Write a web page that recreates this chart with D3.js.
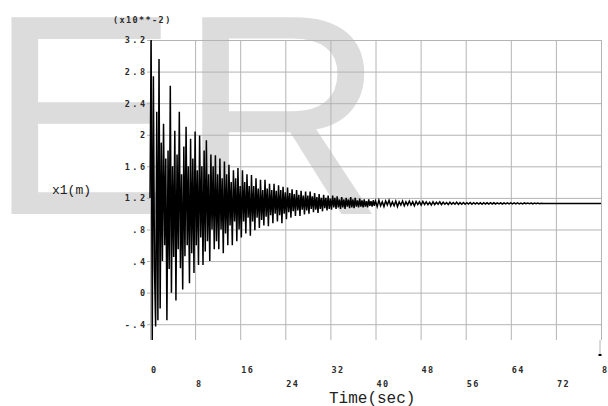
<!DOCTYPE html>
<html lang="en">

<head>
    <meta charset="UTF-8">
    <title>x1 response</title>
    <script src="https://cdn.jsdelivr.net/npm/d3@7"></script>
    <style>
        body { margin: 0; background: #fff; }
        svg { display: block; }
    </style>
</head>

<body>
</body>
<script>
    // tick values + labels
    const xTicks = [0, 8, 16, 24, 32, 40, 48, 56, 64, 72, 80];
    const yTicks = [-0.4, 0, 0.4, 0.8, 1.2, 1.6, 2, 2.4, 2.8, 3.2];
    const yTickLabels = ["-.4", "0", ".4", ".8", "1.2", "1.6", "2", "2.4", "2.8", "3.2"];

    // response x1 (units of 10**-2 m)
    // first 40 s sampled every 0.2 s
    const earlyStep = 0.2;
    const earlyValues = [
        1.2, 3.2, -0.6, 2.74, 0.3, -0.43, 2.29, -0.35, 2.96, -0.2,      // 0-2 s
        1.9, 0.4, 2.14, 0.6, 1.7, -0.35, 1.8, 0.3, 2.62, 0.0,           // 2-4
        1.6, 0.45, 2.05, -0.1, 1.75, 0.55, 2.29, 0.31, 1.5, 0.04,       // 4-6
        1.85, 0.46, 2.1, 0.6, 1.6, 0.12, 1.95, 0.5, 1.7, 0.25,          // 6-8
        2.04, 0.6, 1.55, 0.35, 1.99, 0.7, 1.6, 0.35, 1.8, 0.52,         // 8-10
        1.93, 0.65, 1.5, 0.4, 1.75, 0.8, 1.6, 0.55, 1.74, 0.65,         // 10-12
        1.5, 0.55, 1.7, 0.8, 1.45, 0.5, 1.66, 0.75, 1.5, 0.6,           // 12-14
        1.62, 0.85, 1.4, 0.6, 1.55, 0.9, 1.45, 0.65, 1.58, 0.8,         // 14-16
        1.35, 0.7, 1.55, 0.9, 1.4, 0.75, 1.5, 0.95, 1.35, 0.72,         // 16-18
        1.49, 0.9, 1.35, 0.79, 1.45, 0.95, 1.32, 0.82, 1.43, 0.92,      // 18-20
        1.3, 0.85, 1.43, 0.96, 1.32, 0.84, 1.38, 0.98, 1.3, 0.88,       // 20-22
        1.38, 1.0, 1.29, 0.9, 1.36, 0.98, 1.3, 0.88, 1.34, 1.0,         // 22-24
        1.27, 0.93, 1.33, 1.02, 1.26, 0.95, 1.31, 1.03, 1.25, 0.97,     // 24-26
        1.3, 1.04, 1.24, 0.97, 1.29, 1.05, 1.23, 0.99, 1.28, 1.04,      // 26-28
        1.23, 1.0, 1.28, 1.06, 1.22, 1.02, 1.26, 1.05, 1.21, 1.01,      // 28-30
        1.25, 1.06, 1.2, 1.03, 1.24, 1.07, 1.2, 1.04, 1.23, 1.06,       // 30-32
        1.19, 1.05, 1.23, 1.08, 1.2, 1.06, 1.22, 1.08, 1.18, 1.06,      // 32-34
        1.21, 1.08, 1.18, 1.06, 1.2, 1.09, 1.18, 1.07, 1.21, 1.08,      // 34-36
        1.18, 1.07, 1.2, 1.09, 1.17, 1.08, 1.19, 1.09, 1.17, 1.08,      // 36-38
        1.18, 1.09, 1.16, 1.08, 1.18, 1.1, 1.16, 1.09, 1.17, 1.1        // 38-40
    ];
    // from 40 s on, every 0.3 s
    const lateStart = 40;
    const lateStep = 0.3;
    const lateValues = [
        1.16, 1.09, 1.17, 1.1, 1.15, 1.09, 1.16, 1.11, 1.17, 1.1,                 // 40-43 s
        1.15, 1.1, 1.16, 1.09, 1.15, 1.11, 1.16, 1.1, 1.15, 1.11,                 // 43-46
        1.16, 1.11, 1.15, 1.1, 1.155, 1.115, 1.15, 1.11, 1.155, 1.115,            // 46-49
        1.15, 1.115, 1.145, 1.11, 1.15, 1.115, 1.145, 1.12, 1.15, 1.115,          // 49-52
        1.145, 1.12, 1.14, 1.115, 1.145, 1.12, 1.14, 1.12, 1.145, 1.118,          // 52-55
        1.14, 1.12, 1.142, 1.12, 1.14, 1.122, 1.142, 1.12, 1.14, 1.122,           // 55-58
        1.14, 1.122, 1.138, 1.12, 1.14, 1.123, 1.138, 1.122, 1.14, 1.123,         // 58-61
        1.138, 1.123, 1.137, 1.124, 1.138, 1.123, 1.137, 1.124, 1.136, 1.124,     // 61-64
        1.137, 1.125, 1.136, 1.124, 1.136, 1.125, 1.135, 1.125, 1.136, 1.126,     // 64-67
        1.135, 1.126, 1.134, 1.125, 1.135, 1.126, 1.134, 1.127, 1.133, 1.128, 1.13, 1.13 // 67-70.6
    ];
    // steady state held to the end of the run
    const endTime = 80;
    const endValue = 1.13;

    makeChart();

    function makeChart() {
        const width = 608;
        const height = 406;
        const margin = { top: 40, right: 7, bottom: 66, left: 150 };

        const svg = d3.select("body")
            .append("svg")
            .attr("width", width)
            .attr("height", height);

        //Big grey watermark letters behind everything
        svg.append("text")
            .attr("x", -12)
            .attr("y", 214)
            .attr("font-family", "Liberation Sans, Arial, sans-serif")
            .attr("font-size", 286)
            .attr("fill", "#dcdcdc")
            .text("ER");

        const x = d3.scaleLinear([0, 80], [margin.left, width - margin.right]);
        const y = d3.scaleLinear([-0.6, 3.2], [height - margin.bottom, margin.top]);

        const gridColor = "#b4b4b4";
        const labelFont = "DejaVu Sans Mono, monospace";

        //Horizontal grid + y labels
        const yAxis = svg.append("g")
            .attr("transform", `translate(${margin.left - 3},0)`)
            .call(d3.axisLeft(y)
                .tickValues(yTicks)
                .tickFormat((d, i) => yTickLabels[i])
                .tickSize(-(x.range()[1] - margin.left + 3))
                .tickPadding(2));
        yAxis.select(".domain").remove();
        yAxis.selectAll("line").attr("stroke", gridColor);
        yAxis.selectAll("text")
            .attr("font-family", labelFont)
            .attr("font-size", 8.5)
            .attr("font-weight", "bold")
            .attr("letter-spacing", 2.4)
            .attr("fill", "#2a2a2a")
            .attr("dx", 2.4)
            .attr("dy", "0.35em");

        //Vertical grid lines
        const xAxis = svg.append("g")
            .attr("transform", `translate(0,${y.range()[0]})`)
            .call(d3.axisBottom(x)
                .tickValues(xTicks)
                .tickSize(-(y.range()[0] - y.range()[1]))
                .tickFormat(""));
        xAxis.select(".domain").remove();
        xAxis.selectAll("line").attr("stroke", gridColor);

        //last grid line runs a little below the frame
        svg.append("line")
            .attr("x1", x(80) - 1).attr("x2", x(80) - 1)
            .attr("y1", y.range()[0]).attr("y2", y.range()[0] + 15)
            .attr("stroke", gridColor);
        svg.append("line")
            .attr("x1", x(80) - 2.5).attr("x2", x(80) + 0.5)
            .attr("y1", y.range()[0] + 15).attr("y2", y.range()[0] + 15)
            .attr("stroke", "#000")
            .attr("stroke-width", 2);

        //x labels, alternating between two rows
        svg.append("g")
            .selectAll("text")
            .data(xTicks)
            .join("text")
            .attr("x", d => x(d) + 1)
            .attr("y", (d, i) => i % 2 === 0 ? 373 : 387)
            .attr("font-family", labelFont)
            .attr("font-size", 8.5)
            .attr("font-weight", "bold")
            .attr("letter-spacing", 1.4)
            .attr("fill", "#2a2a2a")
            .text(d => d);

        //Response curve
        const series = earlyValues.map((v, i) => [i * earlyStep, v])
            .concat(lateValues.map((v, i) => [lateStart + i * lateStep, v]));
        series.push([endTime, endValue]);

        const line = d3.line()
            .x(d => x(d[0]))
            .y(d => y(d[1]));

        svg.append("path")
            .datum(series)
            .attr("fill", "none")
            .attr("stroke", "#000")
            .attr("stroke-width", 1.5)
            .attr("stroke-linejoin", "miter")
            .attr("d", line);

        //Titles
        svg.append("text")
            .attr("x", 113)
            .attr("y", 23)
            .attr("font-family", labelFont)
            .attr("font-size", 8.5)
            .attr("font-weight", "bold")
            .attr("letter-spacing", 1.4)
            .attr("fill", "#2a2a2a")
            .text("(x10**-2)");

        svg.append("text")
            .attr("x", 52)
            .attr("y", 194)
            .attr("font-family", "Liberation Mono, Courier New, monospace")
            .attr("font-size", 13)
            .attr("fill", "#222")
            .text("x1(m)");

        svg.append("text")
            .attr("x", 329)
            .attr("y", 403)
            .attr("font-family", "Liberation Mono, Courier New, monospace")
            .attr("font-size", 16)
            .attr("fill", "#222")
            .text("Time(sec)");

        return svg.node();
    }

</script>

</html>
